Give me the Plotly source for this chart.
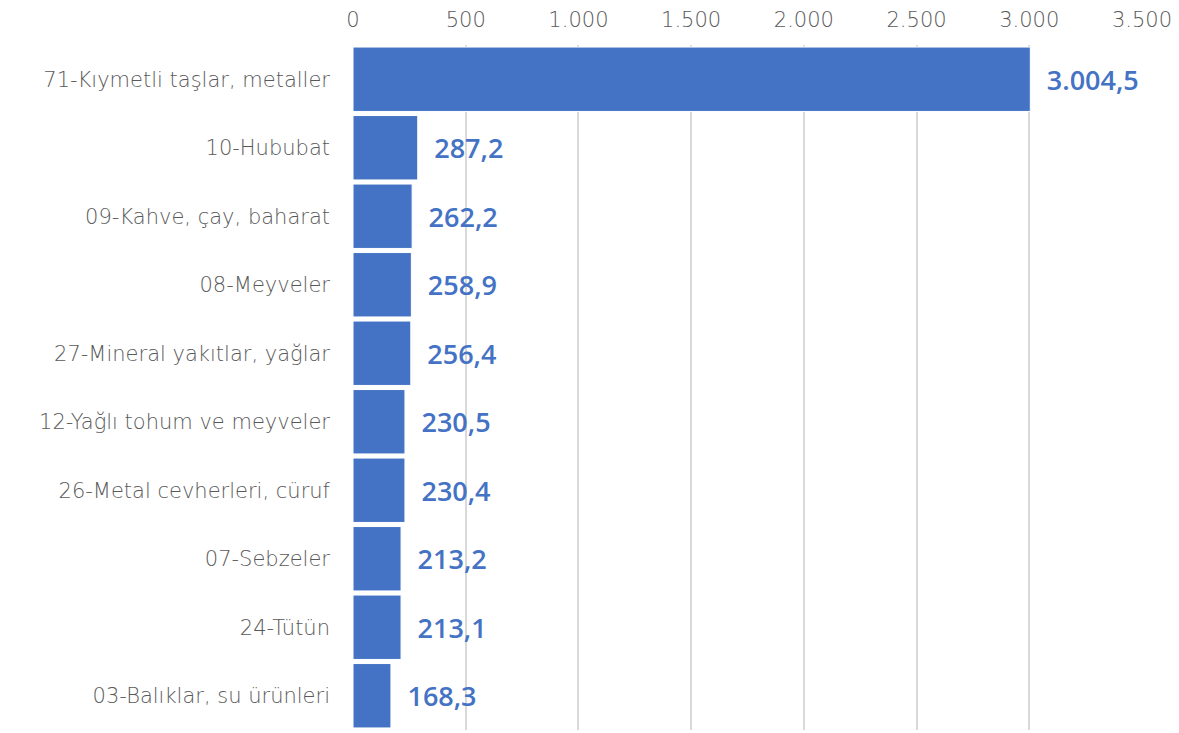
import plotly.graph_objects as go

categories = [
    "71-Kıymetli taşlar, metaller",
    "10-Hububat",
    "09-Kahve, çay, baharat",
    "08-Meyveler",
    "27-Mineral yakıtlar, yağlar",
    "12-Yağlı tohum ve meyveler",
    "26-Metal cevherleri, cüruf",
    "07-Sebzeler",
    "24-Tütün",
    "03-Balıklar, su ürünleri",
]
values = [3004.5, 287.2, 262.2, 258.9, 256.4, 230.5, 230.4, 213.2, 213.1, 168.3]
tick_vals = [0, 500, 1000, 1500, 2000, 2500, 3000, 3500]

fig = go.Figure(go.Bar(
    x=values,
    y=categories,
    orientation="h",
    marker=dict(color="#4472C4", line=dict(color="white", width=1)),
    texttemplate="\u2002%{x:,.1f}",
    textposition="outside",
    textfont=dict(family="Open Sans", size=27, color="#4472C4", weight=600),
    cliponaxis=False,
))

fig.update_layout(
    width=1171, height=725,
    margin=dict(l=345, r=37, t=37, b=3, autoexpand=False),
    paper_bgcolor="white", plot_bgcolor="white",
    separators=",.",
    bargap=0.06,
    showlegend=False,
    xaxis=dict(
        side="top", range=[0, 3500], tickvals=tick_vals, tickformat=",d",
        showgrid=True, gridcolor="#d9d9d9", gridwidth=2,
        zeroline=False, showline=False, ticks="", automargin=False,
        ticklabelstandoff=13,
        tickfont=dict(family="DejaVu Sans", size=21, color="#595959", weight=200),
    ),
    yaxis=dict(
        autorange="reversed", showgrid=False, zeroline=False,
        showline=False, ticks="", ticklabelstandoff=22, automargin=False,
        tickfont=dict(family="DejaVu Sans", size=21, color="#595959", weight=200),
    ),
)

fig.write_html("out.html")
